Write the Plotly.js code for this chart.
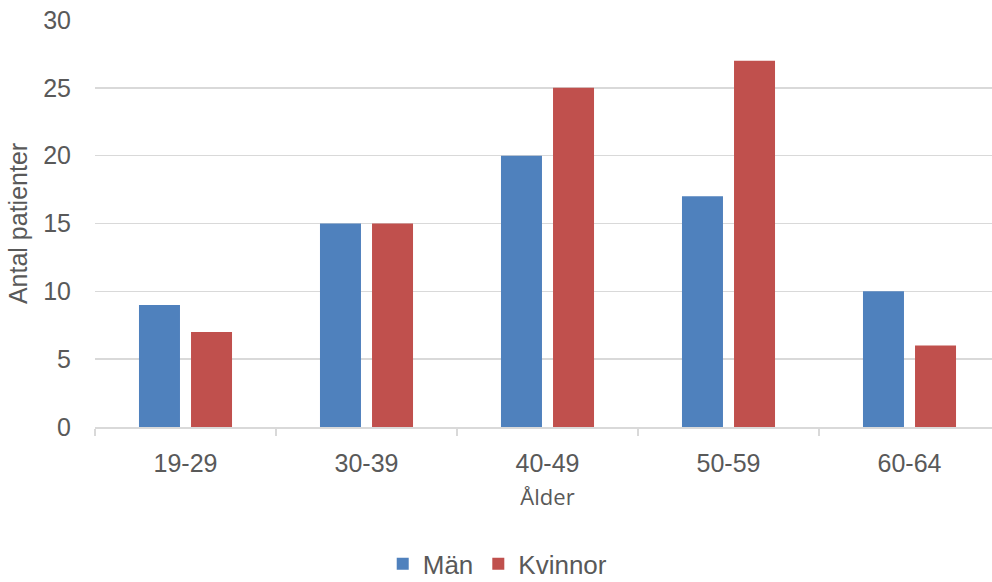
<!DOCTYPE html>
<html>
<head>
<meta charset="utf-8">
<script src="https://cdn.plot.ly/plotly-3.0.1.min.js"></script>
<style>
  html, body { margin: 0; padding: 0; background: #ffffff; overflow: hidden; }
  #chart { width: 1000px; height: 600px; }
</style>
</head>
<body>
<div id="chart"></div>
<script>
// Åldersgrupper och antal patienter per kön
const categories = ['19-29', '30-39', '40-49', '50-59', '60-64'];
const man = [9, 15, 20, 17, 10];
const kvinnor = [7, 15, 25, 27, 6];
const yTicks = [0, 5, 10, 15, 20, 25, 30];

const textColor = '#595959';
const gridColor = '#d9d9d9';

const traces = [
  { type: 'bar', name: 'Män', x: categories, y: man,
    marker: { color: '#4f81bd' }, hoverinfo: 'x+y+name' },
  { type: 'bar', name: 'Kvinnor', x: categories, y: kvinnor,
    marker: { color: '#c0504d' }, hoverinfo: 'x+y+name' }
];

const layout = {
  width: 1000,
  height: 600,
  margin: { l: 95, r: 0, t: 20, b: 173, autoexpand: false },
  paper_bgcolor: '#ffffff',
  plot_bgcolor: '#ffffff',
  barmode: 'group',
  bargap: 0.425,
  bargroupgap: 0.212,
  font: { family: 'Liberation Sans, Arial, sans-serif', color: textColor, size: 25 },
  xaxis: {
    type: 'category',
    automargin: false,
    showgrid: false,
    showline: true,
    linecolor: gridColor,
    linewidth: 1.5,
    ticks: 'outside',
    tickson: 'boundaries',
    ticklen: 7,
    tickcolor: gridColor,
    tickwidth: 1.5,
    ticklabelstandoff: 13,
    tickfont: { size: 25, color: textColor },
    title: { text: 'Ålder', font: { family: 'Open Sans, Noto Sans, sans-serif', size: 22, color: textColor }, standoff: 14 },
    fixedrange: true
  },
  yaxis: {
    range: [0, 30],
    automargin: false,
    tickvals: yTicks,
    ticktext: yTicks.map(String),
    showgrid: true,
    gridcolor: gridColor,
    gridwidth: 1.5,
    zeroline: false,
    showline: false,
    ticks: '',
    ticklabelstandoff: 23,
    tickfont: { size: 25, color: textColor },
    title: { text: 'Antal patienter', font: { size: 25, color: textColor }, standoff: 8 },
    fixedrange: true
  },
  showlegend: true,
  legend: {
    orientation: 'h',
    x: 0.445,
    xanchor: 'center',
    y: -0.336,
    yanchor: 'middle',
    font: { size: 26, color: textColor },
    itemwidth: 30,
    traceorder: 'normal'
  }
};

Plotly.newPlot('chart', traces, layout, { displayModeBar: false, staticPlot: true });
</script>
</body>
</html>
